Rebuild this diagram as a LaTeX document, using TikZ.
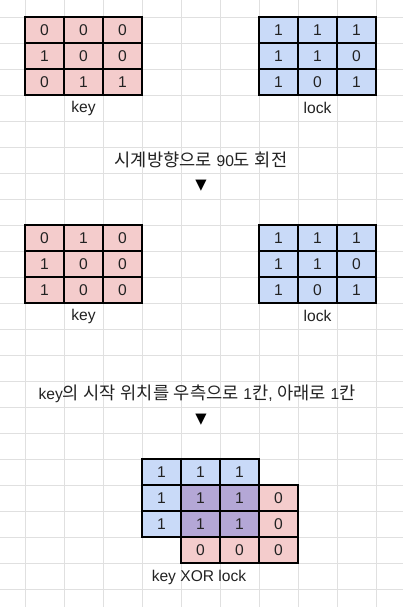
\documentclass[tikz,border=0pt]{standalone}
\usepackage{fontspec}
\setmainfont{Liberation Sans}
\newfontfamily\kr{Noto Sans CJK KR}
\newfontfamily\dv{DejaVu Sans}
\definecolor{gridc}{HTML}{E0E0E0}
\definecolor{pinkc}{HTML}{F4CCCC}
\definecolor{bluec}{HTML}{C9DAF8}
\definecolor{purpc}{HTML}{B4A7D6}
\definecolor{textc}{HTML}{222222}
\newcommand{\krt}[1]{{\kr\fontsize{13.2}{15}\selectfont #1}}
\newcommand{\mtx}[5]{%
  \foreach \v [count=\n from 0] in {#5} {%
    \pgfmathtruncatemacro{\r}{int(\n/3)}%
    \pgfmathtruncatemacro{\c}{\n-3*\r}%
    \node[cell, fill=#4] (#1-\r-\c) at ({#2+19.5+39*\c},{#3+13+26*\r}) {\v};
  }%
}
\begin{document}
\begin{tikzpicture}[x=0.75pt,y=-0.75pt,
  cell/.style={draw=black, line width=1pt, minimum width=29.25pt, minimum height=19.5pt, inner sep=0pt, font=\fontsize{11.7}{14}\selectfont, text=textc},
  lbl/.style={inner sep=0pt, font=\fontsize{11.7}{14}\selectfont, text=textc},
  tri/.style={inner sep=0pt, font=\dv\fontsize{11}{13}\selectfont, text=black}]
\fill[white] (0,0) rectangle (403,607);
\useasboundingbox (0,0) rectangle (403,607);
\foreach \k in {0,...,9} \draw[gridc, line width=0.75pt] (25+39*\k,0) -- (25+39*\k,607);
\foreach \k in {0,...,22} \draw[gridc, line width=0.75pt] (0,17+26*\k) -- (403,17+26*\k);
% first row
\mtx{ka}{25}{17}{pinkc}{0,0,0,1,0,0,0,1,1}
\mtx{la}{259}{17}{bluec}{1,1,1,1,1,0,1,0,1}
\node[lbl] (keya) at (83.5,108) {key};
\node[lbl] (locka) at (317.5,108) {lock};
\node[lbl] (rot) at (201,160) {\krt{시계방향으로}\hspace{3.5pt}90\krt{도\hspace{3.5pt}회전}};
\node[tri] (arra) at (201,186) {▼};
% second row
\mtx{kb}{25}{225}{pinkc}{0,1,0,1,0,0,1,0,0}
\mtx{lb}{259}{225}{bluec}{1,1,1,1,1,0,1,0,1}
\node[lbl] (keyb) at (83.5,316) {key};
\node[lbl] (lockb) at (317.5,316) {lock};
\node[lbl] (shift) at (197,394) {key\krt{의\hspace{3.5pt}시작\hspace{3.5pt}위치를\hspace{3.5pt}우측으로}\hspace{3.5pt}1\krt{칸},\hspace{3.5pt}\krt{아래로}\hspace{3.5pt}1\krt{칸}};
\node[tri] (arrb) at (201,420) {▼};
% result
\node[cell, fill=bluec] (r00) at (161.5,472) {1};
\node[cell, fill=bluec] (r01) at (200.5,472) {1};
\node[cell, fill=bluec] (r02) at (239.5,472) {1};
\node[cell, fill=bluec] (r10) at (161.5,498) {1};
\node[cell, fill=purpc] (r11) at (200.5,498) {1};
\node[cell, fill=purpc] (r12) at (239.5,498) {1};
\node[cell, fill=pinkc] (r13) at (278.5,498) {0};
\node[cell, fill=bluec] (r20) at (161.5,524) {1};
\node[cell, fill=purpc] (r21) at (200.5,524) {1};
\node[cell, fill=purpc] (r22) at (239.5,524) {1};
\node[cell, fill=pinkc] (r23) at (278.5,524) {0};
\node[cell, fill=pinkc] (r31) at (200.5,550) {0};
\node[cell, fill=pinkc] (r32) at (239.5,550) {0};
\node[cell, fill=pinkc] (r33) at (278.5,550) {0};
\node[lbl] (xor) at (199,577) {key XOR lock};
\end{tikzpicture}
\end{document}
